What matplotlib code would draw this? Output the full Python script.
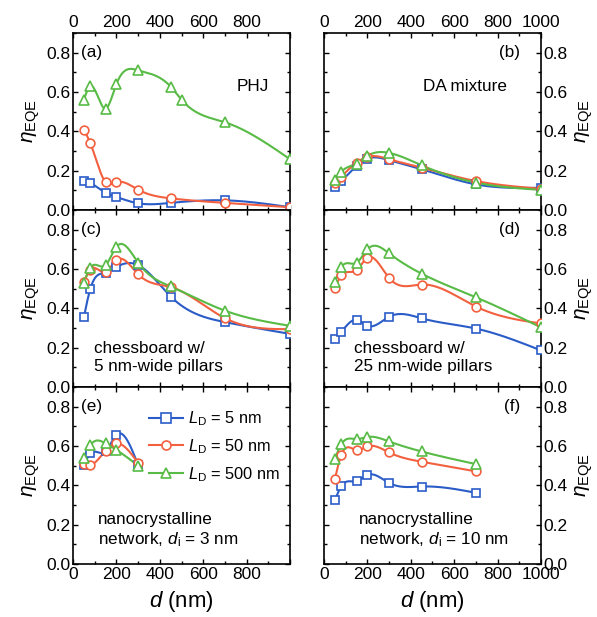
import numpy as np
import matplotlib
matplotlib.use("Agg")
import matplotlib.pyplot as plt
from matplotlib.lines import Line2D
from matplotlib.ticker import MultipleLocator

plt.rcParams["font.family"] = ["Liberation Sans", "DejaVu Sans"]
plt.rcParams["mathtext.fontset"] = "custom"
plt.rcParams["mathtext.rm"] = "Liberation Sans"
plt.rcParams["mathtext.it"] = "Liberation Sans:italic"

# layer thickness d (nm)
d_full = [50, 80, 150, 200, 300, 450, 700, 1000]
d_phj_green = [50, 80, 150, 200, 300, 450, 500, 700, 1000]
d_e = [50, 80, 150, 200, 300]
d_f = [50, 80, 150, 200, 300, 450, 700]

# (a) PHJ
a_ld5 = [0.147, 0.136, 0.088, 0.066, 0.034, 0.036, 0.049, 0.014]
a_ld50 = [0.407, 0.339, 0.141, 0.141, 0.103, 0.059, 0.036, 0.014]
a_ld500 = [0.56, 0.63, 0.515, 0.64, 0.71, 0.627, 0.56, 0.446, 0.258]

# (b) DA mixture
b_ld5 = [0.117, 0.147, 0.224, 0.261, 0.253, 0.207, 0.13, 0.113]
b_ld50 = [0.136, 0.17, 0.24, 0.27, 0.258, 0.215, 0.147, 0.108]
b_ld500 = [0.151, 0.195, 0.236, 0.275, 0.29, 0.227, 0.139, 0.102]

# (c) chessboard, 5 nm pillars
c_ld5 = [0.354, 0.50, 0.58, 0.61, 0.62, 0.46, 0.33, 0.27]
c_ld50 = [0.533, 0.597, 0.585, 0.645, 0.573, 0.508, 0.35, 0.294]
c_ld500 = [0.528, 0.607, 0.619, 0.713, 0.632, 0.511, 0.388, 0.311]

# (d) chessboard, 25 nm pillars
d_ld5 = [0.246, 0.282, 0.342, 0.311, 0.357, 0.349, 0.297, 0.186]
d_ld50 = [0.504, 0.567, 0.593, 0.658, 0.554, 0.521, 0.409, 0.323]
d_ld500 = [0.533, 0.61, 0.631, 0.70, 0.679, 0.576, 0.456, 0.303]

# (e) nanocrystalline, di = 3 nm
e_ld5 = [0.503, 0.562, 0.572, 0.657, 0.503]
e_ld50 = [0.508, 0.503, 0.576, 0.613, 0.513]
e_ld500 = [0.537, 0.604, 0.613, 0.58, 0.50]

# (f) nanocrystalline, di = 10 nm
f_ld5 = [0.323, 0.396, 0.421, 0.453, 0.412, 0.394, 0.362]
f_ld50 = [0.431, 0.555, 0.579, 0.598, 0.567, 0.52, 0.471]
f_ld500 = [0.534, 0.609, 0.635, 0.646, 0.623, 0.572, 0.508]

labels = [r"$L_\mathrm{D}$ = 5 nm", r"$L_\mathrm{D}$ = 50 nm", r"$L_\mathrm{D}$ = 500 nm"]
colors = ["#2a5cc8", "#f2603f", "#58bb45"]
markers = ["s", "o", "^"]

panels = [
    ("(a)", [(d_full, a_ld5), (d_full, a_ld50), (d_phj_green, a_ld500)]),
    ("(b)", [(d_full, b_ld5), (d_full, b_ld50), (d_full, b_ld500)]),
    ("(c)", [(d_full, c_ld5), (d_full, c_ld50), (d_full, c_ld500)]),
    ("(d)", [(d_full, d_ld5), (d_full, d_ld50), (d_full, d_ld500)]),
    ("(e)", [(d_e, e_ld5), (d_e, e_ld50), (d_e, e_ld500)]),
    ("(f)", [(d_f, f_ld5), (d_f, f_ld50), (d_f, f_ld500)]),
]


def spline_curve(x, y, n=300):
    """Natural cubic spline through the points, for the connecting line."""
    x = np.asarray(x, float)
    y = np.asarray(y, float)
    m = len(x)
    h = np.diff(x)
    A = np.zeros((m, m))
    r = np.zeros(m)
    A[0, 0] = A[-1, -1] = 1.0
    for i in range(1, m - 1):
        A[i, i - 1] = h[i - 1]
        A[i, i] = 2 * (h[i - 1] + h[i])
        A[i, i + 1] = h[i]
        r[i] = 6 * ((y[i + 1] - y[i]) / h[i] - (y[i] - y[i - 1]) / h[i - 1])
    M = np.linalg.solve(A, r)
    xs = np.linspace(x[0], x[-1], n)
    k = np.clip(np.searchsorted(x, xs) - 1, 0, m - 2)
    t0 = x[k + 1] - xs
    t1 = xs - x[k]
    hk = h[k]
    ys = (M[k] * t0**3 + M[k + 1] * t1**3) / (6 * hk) \
        + (y[k] / hk - M[k] * hk / 6) * t0 + (y[k + 1] / hk - M[k + 1] * hk / 6) * t1
    return xs, ys


fig = plt.figure(figsize=(5.97, 6.17), dpi=100)
col_left = [0.1223, 0.5427]
width = 0.3635
height = 0.2869
bottom0 = 0.0859

tick_fs = 12.5
text_fs = 12.3
axes = []
for idx, (tag, series) in enumerate(panels):
    row, col = divmod(idx, 2)
    ax = fig.add_axes([col_left[col], bottom0 + (2 - row) * height, width, height])
    axes.append(ax)

    for (xv, yv), c, mk in zip(series, colors, markers):
        xs, ys = spline_curve(xv, yv)
        ax.plot(xs, ys, color=c, lw=1.5, zorder=2)
        ax.plot(xv, yv, ls="none", marker=mk, ms=7 if mk == "^" else 6.3,
                mfc="white", mec=c, mew=1.2, zorder=3)

    ax.set_xlim(0, 1000)
    ax.set_ylim(0, 0.9)
    ax.yaxis.set_minor_locator(MultipleLocator(0.1))
    ax.xaxis.set_minor_locator(MultipleLocator(100))
    for s in ax.spines.values():
        s.set_linewidth(1.2)

    ax.tick_params(which="both", direction="in", top=True, bottom=True,
                   left=True, right=True, labelsize=tick_fs, width=1.0)
    ax.tick_params(which="major", length=3.5)
    ax.tick_params(which="minor", length=2)

    ax.set_yticks([0, 0.2, 0.4, 0.6, 0.8])
    ax.set_yticklabels(["0.0", "0.2", "0.4", "0.6", "0.8"])
    # y labels: left column on left, right column on right
    if col == 0:
        ax.tick_params(axis="y", labelleft=True, labelright=False, pad=2)
        ax.set_ylabel(r"$\eta_\mathrm{EQE}$", fontsize=15, labelpad=3)
    else:
        ax.tick_params(axis="y", labelleft=False, labelright=True, pad=2)
        ax.yaxis.set_label_position("right")
        ax.set_ylabel(r"$\eta_\mathrm{EQE}$", fontsize=15, labelpad=4)

    # x labels: top row on top, bottom row on bottom
    if col == 0:
        xt = ["0", "200", "400", "600", "800", ""]
    else:
        xt = ["0", "200", "400", "600", "800", "1000"]
    ax.set_xticks([0, 200, 400, 600, 800, 1000])
    ax.set_xticklabels(xt)
    if row == 0:
        ax.tick_params(axis="x", labeltop=True, labelbottom=False, pad=2)
    elif row == 1:
        ax.tick_params(axis="x", labeltop=False, labelbottom=False)
    else:
        ax.tick_params(axis="x", labeltop=False, labelbottom=True, pad=2)
        ax.set_xlabel(r"$d$ (nm)", fontsize=16, labelpad=5)

    # panel tag
    if col == 0:
        ax.text(0.035, 0.8, tag, transform=ax.get_yaxis_transform(),
                fontsize=text_fs, va="center", ha="left")
    else:
        ax.text(0.905, 0.8, tag, transform=ax.get_yaxis_transform(),
                fontsize=text_fs, va="center", ha="right")

ax_a, ax_b, ax_c, ax_d, ax_e, ax_f = axes
ax_a.text(0.755, 0.63, "PHJ", transform=ax_a.get_yaxis_transform(),
          fontsize=text_fs, va="center", ha="left")
ax_b.text(0.455, 0.63, "DA mixture", transform=ax_b.get_yaxis_transform(),
          fontsize=text_fs, va="center", ha="left")
ax_c.text(0.095, 0.15, "chessboard w/\n5 nm-wide pillars",
          transform=ax_c.get_yaxis_transform(), fontsize=text_fs, va="center",
          ha="left", linespacing=1.25)
ax_d.text(0.14, 0.15, "chessboard w/\n25 nm-wide pillars",
          transform=ax_d.get_yaxis_transform(), fontsize=text_fs, va="center",
          ha="left", linespacing=1.25)
ax_e.text(0.115, 0.17, "nanocrystalline\nnetwork, $d_\\mathrm{i}$ = 3 nm",
          transform=ax_e.get_yaxis_transform(), fontsize=text_fs, va="center",
          ha="left", linespacing=1.25)
ax_f.text(0.16, 0.17, "nanocrystalline\nnetwork, $d_\\mathrm{i}$ = 10 nm",
          transform=ax_f.get_yaxis_transform(), fontsize=text_fs, va="center",
          ha="left", linespacing=1.25)

handles = [Line2D([0], [0], color=c, lw=1.5, marker=mk, ms=6.5, mfc="white",
                  mec=c, mew=1.2) for c, mk in zip(colors, markers)]
ax_e.legend(handles, labels, loc="upper left", bbox_to_anchor=(0.32, 0.91),
            frameon=False, fontsize=11.8, handlelength=2.1, handletextpad=0.3,
            labelspacing=0.55, borderpad=0.2, borderaxespad=0.2)

fig.savefig("out.png", dpi=100)
